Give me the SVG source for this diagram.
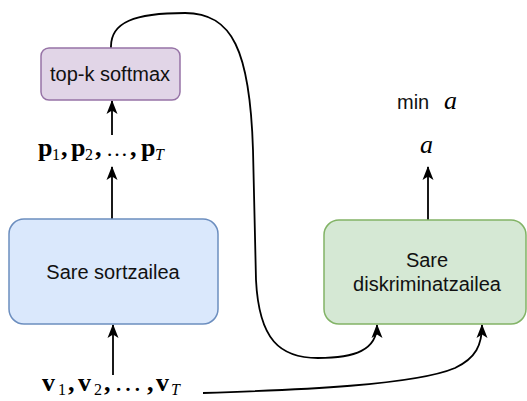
<svg xmlns="http://www.w3.org/2000/svg" width="527" height="401" viewBox="0 0 527 401">
<defs>
<marker id="arr" viewBox="0 0 14 14" markerWidth="14" markerHeight="14" refX="13" refY="7" orient="auto" markerUnits="userSpaceOnUse">
<path d="M0,1.5 L14,7 L0,12.5 L3.5,7 z" fill="#000"/>
</marker>
<style>
.lbl{font-family:"Liberation Sans",Arial,sans-serif;font-size:20px;fill:#111;text-anchor:middle}
.m{font-family:"Liberation Serif","Times New Roman",serif;fill:#000}
.b{font-weight:bold;font-size:26px}
.s{font-size:16px}
.i{font-style:italic}
.c{fill:none;stroke:#000;stroke-width:1.8}
</style>
</defs>
<g id="connectors">
<path class="c" d="M112,135 L112,101" marker-end="url(#arr)"/>
<path class="c" d="M112,219 L112,167" marker-end="url(#arr)"/>
<path class="c" d="M113,375 L113,325" marker-end="url(#arr)"/>
<path class="c" d="M428,220 L428,167" marker-end="url(#arr)"/>
<path class="c" d="M111,48 C110,22 135,13 185,13 C232,13 250,50 253,150 L256,280 C259,340 280,358 318,358 C355,358 377,350 377,325" marker-end="url(#arr)"/>
<path class="c" d="M203,393 C300,390 415,385 455,368 C476,358 482,345 482,325" marker-end="url(#arr)"/>
</g>
<g id="topk">
<rect x="41" y="48" width="139" height="52" rx="8" fill="#e1d5e7" stroke="#9673a6" stroke-width="1.5"/>
<text class="lbl" x="110" y="81">top-k softmax</text>
</g>
<g id="generator">
<rect x="9" y="219" width="209" height="105" rx="15" fill="#dae8fc" stroke="#6c8ebf" stroke-width="1.5"/>
<text class="lbl" x="113" y="279">Sare sortzailea</text>
</g>
<g id="discriminator">
<rect x="324" y="220" width="202" height="104" rx="15" fill="#d5e8d4" stroke="#82b366" stroke-width="1.5"/>
<text class="lbl" x="427" y="267">Sare</text>
<text class="lbl" x="427" y="291">diskriminatzailea</text>
</g>
<g id="p-label">
<text class="m" y="156"><tspan class="b" x="38">p</tspan><tspan class="s" x="52" dy="4">1</tspan><tspan class="b" x="61" dy="-4">,</tspan><tspan class="b" x="71">p</tspan><tspan class="s" x="85" dy="4">2</tspan><tspan class="b" x="95" dy="-4">,</tspan><tspan x="106" font-size="22">…</tspan><tspan class="b" x="130">,</tspan><tspan class="b" x="141">p</tspan><tspan class="s i" x="155" dy="4">T</tspan></text>
</g>
<g id="v-label">
<text class="m" y="391"><tspan class="b" x="42">v</tspan><tspan class="s" x="58" dy="4">1</tspan><tspan class="b" x="68" dy="-4">,</tspan><tspan class="b" x="78">v</tspan><tspan class="s" x="94" dy="4">2</tspan><tspan class="b" x="104" dy="-4">,</tspan><tspan x="114" font-size="28">…</tspan><tspan class="b" x="147">,</tspan><tspan class="b" x="156">v</tspan><tspan class="s i" x="171" dy="4">T</tspan></text>
</g>
<g id="objective">
<text x="397" y="109" font-family="Liberation Sans,Arial,sans-serif" font-size="20" fill="#111">min</text>
<text class="m i" x="444" y="109" font-size="26">a</text>
<text class="m i" x="420" y="153" font-size="26">a</text>
</g>
</svg>
